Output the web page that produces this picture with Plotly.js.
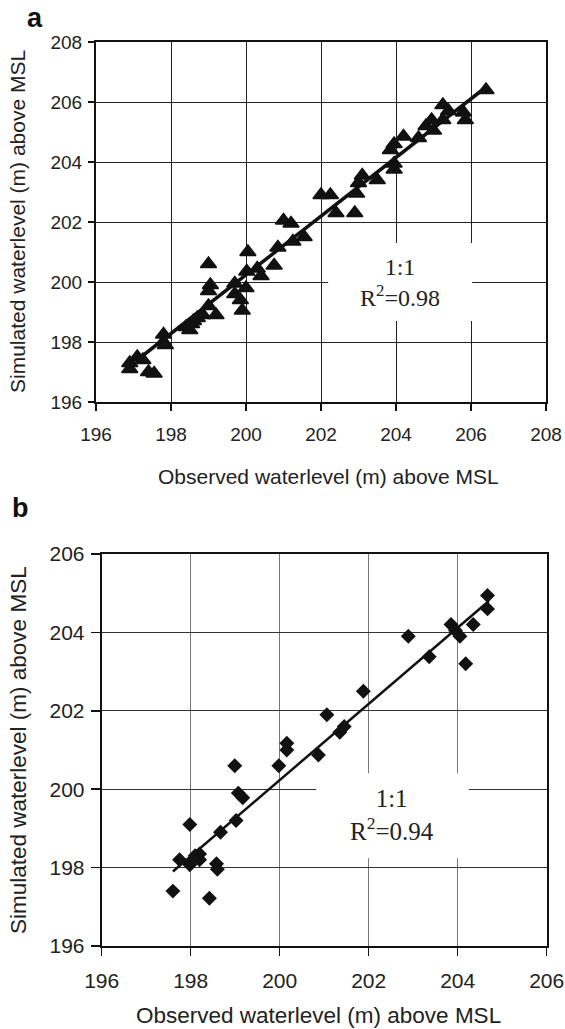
<!DOCTYPE html>
<html>
<head>
<meta charset="utf-8">
<script src="https://cdn.plot.ly/plotly-3.0.1.min.js"></script>
<style>html,body{margin:0;padding:0;background:#fff;}#chart{width:565px;height:1029px;}</style>
</head>
<body>
<div id="chart"></div>
<script>
// Panel a: observed vs simulated water level (triangles)
var obsA = [196.9,196.9,197.1,197.25,197.4,197.55,197.8,197.8,197.85,198.4,198.5,198.55,198.6,198.7,198.85,199.0,199.2,199.0,199.05,199.0,199.7,199.7,199.85,199.9,200.0,200.05,200.02,200.3,200.4,200.75,200.85,201.0,201.2,201.25,201.55,202.0,202.25,202.4,202.9,202.95,203.0,203.1,203.5,203.85,203.95,204.2,203.95,203.95,204.6,204.8,204.95,205.0,205.25,205.4,205.25,205.8,205.85,206.4];
var simA = [197.3,197.1,197.5,197.4,197.0,196.95,198.25,198.0,197.9,198.5,198.4,198.6,198.7,198.8,198.9,199.2,198.9,200.6,199.9,199.7,199.95,199.6,199.4,199.05,199.8,201.0,200.35,200.45,200.2,200.55,201.15,202.05,201.95,201.35,201.5,202.9,202.9,202.3,202.3,202.95,203.3,203.55,203.4,204.4,204.6,204.85,203.95,203.75,204.8,205.2,205.4,205.05,205.9,205.7,205.4,205.65,205.4,206.4];
var fitAx = [197.2, 206.3];
var fitAy = [197.5, 206.4];

// Panel b: observed vs simulated water level (diamonds)
var obsB = [197.6,197.75,197.98,197.98,198.1,198.2,198.2,198.42,198.58,198.6,198.67,198.99,199.02,199.07,199.17,199.98,200.16,200.16,200.87,201.06,201.35,201.45,201.88,202.89,203.36,203.85,203.95,204.05,204.18,204.35,204.67,204.67];
var simB = [197.4,198.2,199.1,198.07,198.3,198.35,198.2,197.22,198.1,197.96,198.9,200.6,199.2,199.9,199.78,200.6,201.17,201.0,200.87,201.9,201.45,201.6,202.5,203.9,203.38,204.2,204.05,203.9,203.2,204.2,204.94,204.6];
var fitBx = [197.6, 204.7];
var fitBy = [197.9, 204.8];

var tickVals = [196,198,200,202,204,206,208];
var xTitle = 'Observed waterlevel (m) above MSL';
var yTitle = 'Simulated waterlevel (m) above MSL';
var statA = '1:1<br>R<sup>2</sup>=0.98';
var statB = '1:1<br>R<sup>2</sup>=0.94';

var W = 565, H = 1029;
function px(x){return x/W;}
function py(y){return 1 - y/H;}

var sans = 'Liberation Sans, Arial, sans-serif';
var serif = 'Liberation Serif, Times New Roman, serif';

var traces = [
  {x: fitAx, y: fitAy, mode: 'lines', line: {color: '#111', width: 3.5}, xaxis: 'x', yaxis: 'y', hoverinfo: 'skip'},
  {x: obsA, y: simA, mode: 'markers', marker: {symbol: 'triangle-up', size: 14, color: '#111', line: {color: '#111', width: 1.5}}, xaxis: 'x', yaxis: 'y'},
  {x: fitBx, y: fitBy, mode: 'lines', line: {color: '#111', width: 2.5}, xaxis: 'x2', yaxis: 'y2', hoverinfo: 'skip'},
  {x: obsB, y: simB, mode: 'markers', marker: {symbol: 'diamond', size: 11.5, color: '#111'}, xaxis: 'x2', yaxis: 'y2'}
];

function ax(domain, range, anchor, fsize, gridcolor, ticklen, standoff) {
  return {
    domain: domain, range: range, anchor: anchor,
    tickmode: 'array', tickvals: tickVals,
    showgrid: true, gridcolor: gridcolor, gridwidth: 1,
    zeroline: false, showline: true, linecolor: '#111', linewidth: 2, mirror: true,
    ticks: 'outside', ticklen: ticklen, tickcolor: '#111', tickwidth: 1.5,
    ticklabelstandoff: standoff,
    tickfont: {family: sans, size: fsize, color: '#222'},
    fixedrange: true
  };
}

function lbl(text, x, y, size, extra) {
  var a = {text: text, x: px(x), y: py(y), xref: 'paper', yref: 'paper', xanchor: 'center', yanchor: 'middle', showarrow: false, font: {family: sans, size: size, color: '#222'}};
  for (var k in extra) a[k] = extra[k];
  return a;
}

var layout = {
  width: W, height: H,
  margin: {l: 0, r: 0, t: 0, b: 0},
  paper_bgcolor: '#fff', plot_bgcolor: '#fff',
  showlegend: false,
  xaxis: ax([px(96), px(546)], [196, 208], 'y', 19, '#222', 7, 7),
  yaxis: ax([py(402), py(42)], [196, 208], 'x', 19, '#222', 6, 2),
  xaxis2: ax([px(101.7), px(546.7)], [196, 206], 'y2', 21, '#777', 8, 7),
  yaxis2: ax([py(946), py(554)], [196, 206], 'x2', 21, '#333', 9, 2),
  shapes: [
    {type: 'rect', xref: 'x', yref: 'y', x0: 202.19, x1: 206.03, y0: 198.7, y1: 201.3, fillcolor: '#fff', line: {width: 0}, layer: 'between'},
    {type: 'rect', xref: 'x2', yref: 'y2', x0: 200.82, x1: 204.25, y0: 198.24, y1: 200.41, fillcolor: '#fff', line: {width: 0}, layer: 'between'}
  ],
  annotations: [
    lbl('<b>a</b>', 35, 18, 27, {font: {family: sans, size: 27, color: '#111'}}),
    lbl('<b>b</b>', 20, 508, 27, {font: {family: sans, size: 27, color: '#111'}}),
    lbl(xTitle, 328, 476, 21),
    lbl(yTitle, 18, 222, 21, {textangle: -90}),
    lbl(xTitle, 318, 1015, 22.5),
    lbl(yTitle, 18, 750, 22.5, {textangle: -90}),
    lbl(statA, 400, 283, 24, {font: {family: serif, size: 24, color: '#222'}}),
    lbl(statB, 392, 815, 25, {font: {family: serif, size: 25, color: '#222'}})
  ]
};

Plotly.newPlot('chart', traces, layout, {staticPlot: true, displayModeBar: false});
</script>
</body>
</html>
